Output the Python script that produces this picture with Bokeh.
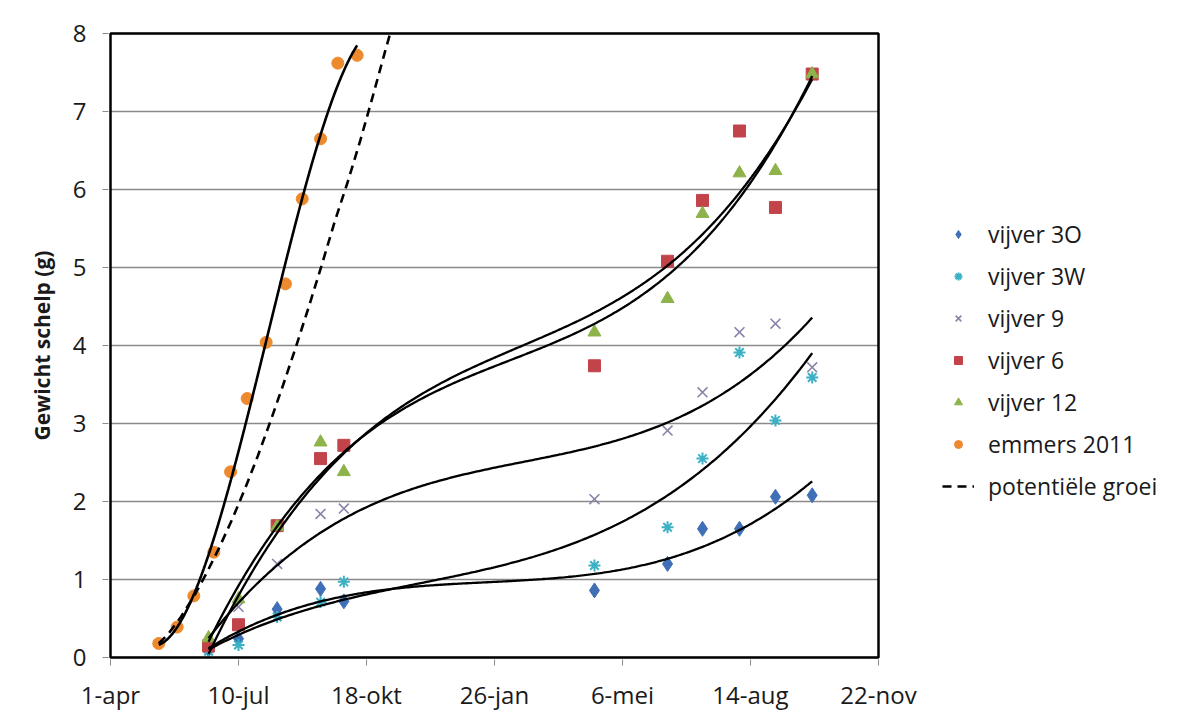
import numpy as np
from bokeh.plotting import figure
from bokeh.models import Legend, LegendItem, FixedTicker
from bokeh.embed import file_html
from bokeh.resources import INLINE

# ---- data (x = days after 1-apr) ----
tick_days = [0, 100, 200, 300, 400, 500, 600]
tick_labels = ["1-apr", "10-jul", "18-okt", "26-jan", "6-mei", "14-aug", "22-nov"]
y_ticks = [0, 1, 2, 3, 4, 5, 6, 7, 8]

days_v = [76.6, 100.0, 130.2, 164.1, 182.3, 378.1, 435.2, 462.5, 491.4, 519.5, 548.2]
vijver_3O = [0.10, 0.24, 0.62, 0.88, 0.72, 0.86, 1.20, 1.65, 1.65, 2.06, 2.08]
vijver_3W = [0.08, 0.16, 0.52, 0.71, 0.97, 1.18, 1.67, 2.55, 3.91, 3.04, 3.59]
vijver_9 = [0.12, 0.65, 1.20, 1.84, 1.91, 2.03, 2.91, 3.40, 4.17, 4.28, 3.72]
vijver_6 = [0.15, 0.42, 1.69, 2.55, 2.72, 3.74, 5.08, 5.86, 6.75, 5.77, 7.48]
vijver_12 = [0.25, 0.75, 1.68, 2.76, 2.38, 4.17, 4.60, 5.69, 6.21, 6.24, 7.48]

days_e = [37.7, 52.1, 65.1, 80.7, 93.8, 106.8, 121.6, 136.7, 149.8, 164.1, 177.6, 192.7]
emmers_2011 = [0.18, 0.39, 0.79, 1.35, 2.38, 3.32, 4.04, 4.79, 5.88, 6.65, 7.62, 7.72]

pot_days = [37.7, 45, 55, 65, 75, 85, 95, 105, 115, 125, 135, 145, 155, 165,
            175, 185, 195, 205, 215, 222]
pot_groei = [0.18, 0.30, 0.52, 0.78, 1.08, 1.41, 1.77, 2.16, 2.58, 3.03, 3.50,
             3.99, 4.50, 5.03, 5.58, 6.08, 6.62, 7.20, 7.80, 8.20]

FONT = "Open Sans"
TXT = "#1a1a1a"

PX_X = 1.28   # px per day
PX_Y = 78.0   # px per gram
pad_x = 2 / PX_X
pad_y = 2 / PX_Y
W, H = 1178, 717
left_b, top_b, bot_b = 108, 31, 58
x_end = -pad_x + (W - left_b) / PX_X

p = figure(width=W, height=H,
           x_range=(-pad_x, x_end), y_range=(-pad_y, 8 + pad_y),
           output_backend="svg", toolbar_location=None,
           min_border_left=left_b, min_border_right=0,
           min_border_top=top_b, min_border_bottom=bot_b)
p.background_fill_color = "white"
p.border_fill_color = "white"
p.outline_line_color = None
p.xgrid.grid_line_color = None
p.ygrid.grid_line_color = None
p.styles = {"outline": "1px solid #cfcfcf", "outline-offset": "-4px"}

p.xaxis.ticker = FixedTicker(ticks=tick_days)
p.xaxis.major_label_overrides = {d: l for d, l in zip(tick_days, tick_labels)}
p.yaxis.ticker = FixedTicker(ticks=y_ticks)

for ax in (p.xaxis[0], p.yaxis[0]):
    ax.axis_line_color = None
    ax.major_tick_line_color = "#8a8a8a"
    ax.major_tick_out = 6
    ax.major_tick_in = 0
    ax.minor_tick_line_color = None
    ax.major_label_text_font = FONT
    ax.major_label_text_font_size = "24px"
    ax.major_label_text_color = TXT

p.xaxis.major_label_standoff = 12
p.yaxis.major_label_standoff = 16
p.yaxis.axis_label = "Gewicht schelp (g)"
p.yaxis.axis_label_text_font = FONT
p.yaxis.axis_label_text_font_size = "21px"
p.yaxis.axis_label_text_font_style = "bold"
p.yaxis.axis_label_text_color = TXT
p.yaxis.axis_label_standoff = 14

# ---- horizontal gridlines within the plot area ----
p.segment(x0=[tick_days[0]] * len(y_ticks), x1=[tick_days[-1]] * len(y_ticks),
          y0=y_ticks, y1=y_ticks, line_color="#8a8a8a", line_width=1.3)

# ---- markers ----
r3O = p.scatter(days_v, vijver_3O, marker="diamond", size=15,
                fill_color="#3f6fb6", line_color="#3f6fb6")
r3W = p.scatter(days_v, vijver_3W, marker="asterisk", size=12,
                line_color="#3cb0c4", line_width=2)
r9 = p.scatter(days_v, vijver_9, marker="x", size=14,
               line_color="#8a84a8", line_width=1.6)
r6 = p.scatter(days_v, vijver_6, marker="square", size=12,
               fill_color="#c2444a", line_color="#c2444a")
r12 = p.scatter(days_v, vijver_12, marker="triangle", size=13,
                fill_color="#8db34a", line_color="#8db34a")
re = p.scatter(days_e, emmers_2011, marker="circle", size=12,
               fill_color="#ee8a2e", line_color="#ee8a2e")

# ---- trend lines (3rd order polynomial fits) ----
def trend(xs, ys, width):
    xs = np.asarray(xs, float)
    ys = np.asarray(ys, float)
    c = np.polyfit(xs, ys, 3)
    xx = np.linspace(xs.min(), xs.max(), 300)
    p.line(xx, np.polyval(c, xx), line_color="black", line_width=width)

for ser in (vijver_3O, vijver_3W, vijver_9, vijver_6, vijver_12):
    trend(days_v, ser, 2.3)
trend(days_e, emmers_2011, 2.6)

# clip the potential-growth line to the plot area top
pd_arr = np.asarray(pot_days, float)
pg_arr = np.asarray(pot_groei, float)
top = y_ticks[-1]
mask = pg_arr <= top
xcut = np.interp(top, pg_arr, pd_arr)
rp = p.line(np.append(pd_arr[mask], xcut), np.append(pg_arr[mask], top),
            line_color="black", line_width=2.6, line_dash="9 6")

# ---- plot-area frame ----
p.quad(left=[tick_days[0]], right=[tick_days[-1]], bottom=[y_ticks[0]], top=[y_ticks[-1]],
       fill_color=None, line_color="black", line_width=2.5)

legend = Legend(items=[
    LegendItem(label="vijver 3O", renderers=[r3O]),
    LegendItem(label="vijver 3W", renderers=[r3W]),
    LegendItem(label="vijver 9", renderers=[r9]),
    LegendItem(label="vijver 6", renderers=[r6]),
    LegendItem(label="vijver 12", renderers=[r12]),
    LegendItem(label="emmers 2011", renderers=[re]),
    LegendItem(label="potentiële groei", renderers=[rp]),
], location=(834, 157))
legend.label_text_font = FONT
legend.label_text_font_size = "23px"
legend.label_text_color = TXT
legend.glyph_width = 32
legend.glyph_height = 20
legend.label_height = 20
legend.label_standoff = 14
legend.spacing = 10
legend.padding = 0
legend.margin = 0
legend.border_line_color = None
legend.background_fill_alpha = 0
p.add_layout(legend, "center")

open("out.html", "w").write(file_html(p, INLINE))
